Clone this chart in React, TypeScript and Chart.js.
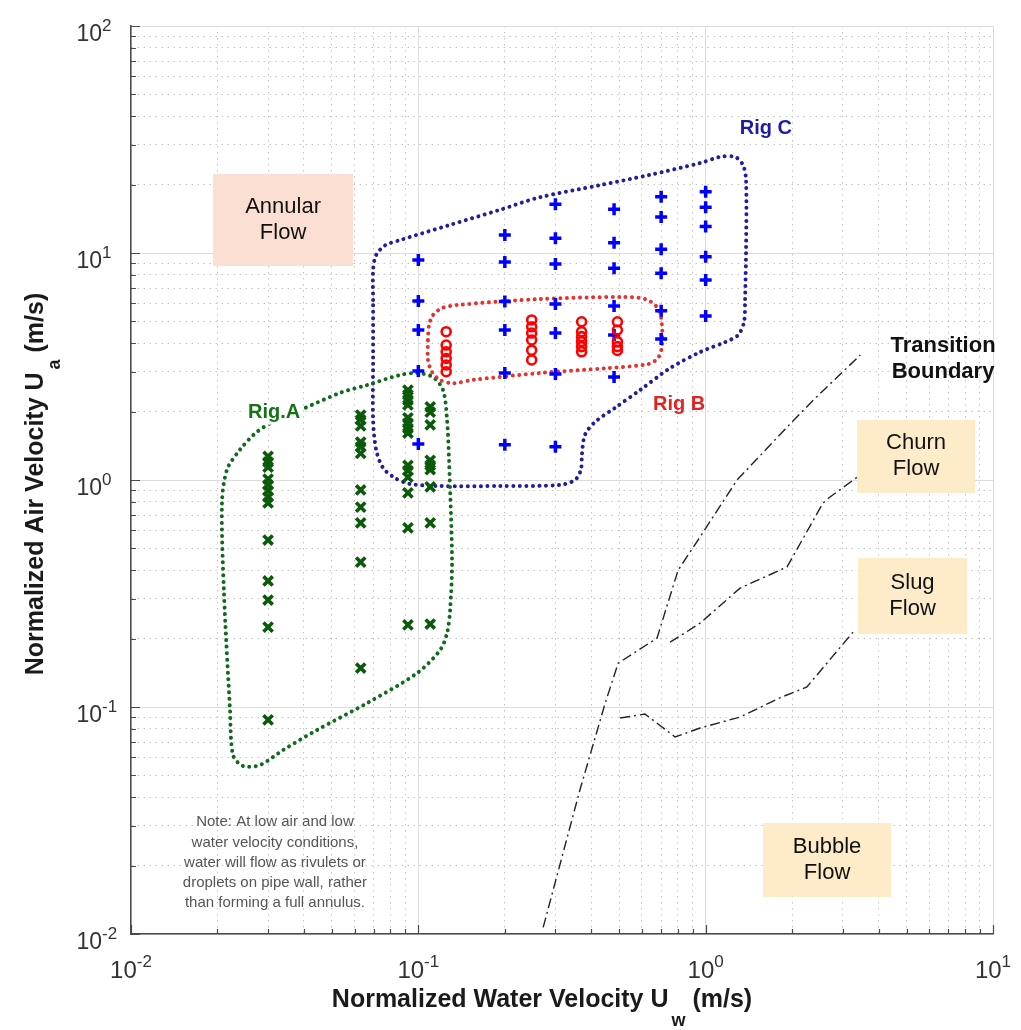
import React, { useEffect, useRef } from "react";
import { Chart, registerables } from "chart.js";

Chart.register(...registerables);

const FONT = '"Liberation Sans", Arial, Helvetica, sans-serif';

// Axis ranges (m/s) and the decade exponents labelled on each axis
const waterRange = [0.01, 10];
const airRange = [0.01, 100];
const waterDecades = [-2, -1, 0, 1];
const airDecades = [-2, -1, 0, 1, 2];

// Rig A test points: water velocity of each column and the air velocities run at it
const rigAWater = [0.03, 0.063, 0.092, 0.11];
const rigAAir = [
  [1.27, 1.2, 1.14, 1.01, 0.951, 0.895, 0.842, 0.792, 0.544, 0.359, 0.296, 0.225, 0.0877],
  [1.93, 1.84, 1.73, 1.47, 1.4, 1.31, 0.904, 0.76, 0.647, 0.435, 0.1485],
  [2.49, 2.37, 2.25, 2.14, 1.88, 1.78, 1.69, 1.61, 1.16, 1.1, 1.03, 0.877, 0.615, 0.23],
  [2.1, 1.99, 1.75, 1.22, 1.16, 1.11, 0.932, 0.647, 0.232],
];

// Rig B test points
const rigBWater = [0.125, 0.248, 0.37, 0.493];
const rigBAir = [
  [4.5, 3.93, 3.67, 3.43, 3.21, 3.0],
  [5.07, 4.73, 4.44, 4.14, 3.73, 3.38],
  [4.98, 4.5, 4.28, 4.07, 3.87, 3.67],
  [4.98, 4.58, 4.07, 3.87, 3.72],
];

// Rig C test points
const rigCWater = [0.1, 0.2, 0.3, 0.48, 0.7, 1.0];
const rigCAir = [
  [9.31, 6.15, 4.58, 3.02, 1.44],
  [12.0, 9.12, 6.11, 4.58, 2.96, 1.43],
  [16.4, 11.6, 8.95, 5.96, 4.44, 2.93, 1.4],
  [15.6, 11.1, 8.57, 5.84, 4.35, 2.84],
  [17.7, 14.4, 10.4, 8.15, 5.57, 4.18],
  [18.6, 15.9, 13.1, 9.63, 7.6, 5.28],
];

// Operating envelope of each rig, [water, air]
const rigAEnvelope = [
  [0.03875, 2.03], [0.0534, 2.42], [0.0663, 2.62], [0.0864, 2.9], [0.099, 2.96], [0.1125, 2.84],
  [0.1219, 2.49], [0.1259, 1.84], [0.1279, 1.22], [0.131, 0.444], [0.129, 0.268], [0.1259, 0.212],
  [0.119, 0.178], [0.099, 0.141], [0.0663, 0.104], [0.0444, 0.0792], [0.0338, 0.0646], [0.0281, 0.0555],
  [0.0245, 0.055], [0.02265, 0.0614], [0.02211, 0.097], [0.02107, 0.318], [0.02073, 0.792], [0.02158, 1.11],
  [0.02395, 1.36], [0.02745, 1.63], [0.03222, 1.84], [0.03875, 2.03],
];
const rigBEnvelope = [
  [0.108, 4.14], [0.109, 4.82], [0.1125, 5.33], [0.121, 5.72], [0.1364, 5.9], [0.265, 6.27], [0.516, 6.4],
  [0.615, 6.27], [0.672, 5.84], [0.7, 5.17], [0.705, 3.93], [0.683, 3.45], [0.63, 3.24], [0.4536, 3.11],
  [0.265, 2.96], [0.155, 2.76], [0.132, 2.67], [0.119, 2.76], [0.1116, 2.99], [0.108, 3.38], [0.108, 4.14],
];
const rigCEnvelope = [
  [0.0696, 6.21], [0.0696, 8.42], [0.0713, 9.8], [0.0766, 10.8], [0.0864, 11.4], [0.129, 13.3], [0.1925, 15.5],
  [0.265, 17.6], [0.429, 19.9], [0.64, 22.1], [0.956, 24.9], [1.122, 26.5], [1.266, 26.5], [1.349, 24.4],
  [1.382, 21.0], [1.382, 10.3], [1.371, 6.21], [1.36, 4.97], [1.297, 4.35], [1.168, 4.05], [0.956, 3.66],
  [0.752, 3.11], [0.591, 2.49], [0.484, 2.08], [0.412, 1.8], [0.38, 1.58], [0.371, 1.29], [0.368, 1.11],
  [0.351, 1.0], [0.311, 0.951], [0.1925, 0.941], [0.119, 0.941], [0.0936, 0.96], [0.083, 1.02], [0.0754, 1.13],
  [0.0713, 1.36], [0.0696, 1.84], [0.0696, 3.38], [0.0696, 6.21],
];

// Flow-regime transition boundaries, [water, air]
const annularBoundary = [
  [0.272, 0.0107], [0.365, 0.0431], [0.447, 0.104], [0.496, 0.156], [0.677, 0.201], [0.802, 0.401],
  [0.956, 0.561], [1.286, 1.0], [1.92, 1.71], [2.37, 2.25], [3.45, 3.55],
];
const churnSlugBoundary = [
  [0.752, 0.193], [0.956, 0.234], [1.317, 0.334], [1.92, 0.414], [2.56, 0.792], [2.71, 0.842], [3.37, 1.03],
];
const slugBubbleBoundary = [
  [0.504, 0.0894], [0.615, 0.0931], [0.783, 0.0738], [0.956, 0.0808], [1.317, 0.0903], [1.82, 0.11],
  [2.25, 0.1225], [3.26, 0.214],
];

// Regime label boxes, placed in axis units: [water from, water to], [air from, air to]
const regimeBoxes = [
  { lines: ["Annular", "Flow"], water: [0.0193, 0.0593], air: [8.76, 22.3], fill: "#fbdfd3" },
  { lines: ["Churn", "Flow"], water: [3.365, 8.66], air: [0.877, 1.84], fill: "#fdebc9" },
  { lines: ["Slug", "Flow"], water: [3.39, 8.13], air: [0.2096, 0.453], fill: "#fdebc9" },
  { lines: ["Bubble", "Flow"], water: [1.584, 4.42], air: [0.01455, 0.0308], fill: "#fdebc9" },
];

// Free text annotations, centred on [water, air]
const textNotes = [
  { lines: ["Rig C"], at: [1.62, 35.4], font: `bold 20px ${FONT}`, color: "#1c1ca6", gap: 0, clear: false },
  { lines: ["Rig B"], at: [0.808, 2.15], font: `bold 20px ${FONT}`, color: "#e32222", gap: 0, clear: false },
  { lines: ["Rig.A"], at: [0.0315, 1.98], font: `bold 20px ${FONT}`, color: "#137313", gap: 0, clear: true },
  { lines: ["Transition", "Boundary"], at: [6.7, 3.41], font: `bold 22px ${FONT}`, color: "#111111", gap: 26, clear: false },
  {
    lines: [
      "Note: At low air and low",
      "water velocity conditions,",
      "water will flow as rivulets or",
      "droplets on pipe wall, rather",
      "than forming a full annulus.",
    ],
    at: [0.0317, 0.0206], font: `15px ${FONT}`, color: "#555555", gap: 20.3, clear: false,
  },
];

const toPoints = (pairs: number[][]) => pairs.map(([x, y]) => ({ x, y }));
const columnsToPoints = (water: number[], air: number[][]) =>
  water.flatMap((w, i) => air[i].map((a) => ({ x: w, y: a })));

const isDecade = (v: number) => {
  const l = Math.log10(v);
  return Math.abs(l - Math.round(l)) < 1e-6;
};

const logTickValues = (min: number, max: number) => {
  const out: number[] = [];
  const e0 = Math.round(Math.log10(min));
  const e1 = Math.round(Math.log10(max));
  for (let e = e0; e < e1; e++) {
    for (let m = 1; m < 10; m++) out.push(parseFloat((m * Math.pow(10, e)).toPrecision(6)));
  }
  out.push(max);
  return out;
};

// "10" with a raised exponent; anchor: 'center' centres the whole label, 'base-right' puts the right edge of "10" at x
function drawPower(ctx: CanvasRenderingContext2D, exp: number, x: number, baseline: number, size: number, supSize: number, rise: number, anchor: string) {
  const base = "10";
  const sup = exp < 0 ? "-" + Math.abs(exp) : String(exp);
  ctx.font = `${size}px ${FONT}`;
  const bw = ctx.measureText(base).width;
  ctx.font = `${supSize}px ${FONT}`;
  const sw = ctx.measureText(sup).width;
  const left = anchor === "center" ? x - (bw + sw) / 2 : x - bw;
  ctx.textAlign = "left";
  ctx.textBaseline = "alphabetic";
  ctx.font = `${size}px ${FONT}`;
  ctx.fillText(base, left, baseline);
  ctx.font = `${supSize}px ${FONT}`;
  ctx.fillText(sup, left + bw, baseline - rise);
}

// Axis title with a subscript, drawn centred on (0, 0) of the current transform
function drawSubTitle(ctx: CanvasRenderingContext2D, head: string, sub: string, tail: string, size: number, subSize: number, drop: number) {
  const main = `bold ${size}px ${FONT}`;
  const small = `bold ${subSize}px ${FONT}`;
  ctx.font = main;
  const hw = ctx.measureText(head).width;
  const tw = ctx.measureText(tail).width;
  ctx.font = small;
  const sw = ctx.measureText(sub).width;
  const gap = 3;
  const total = hw + gap + sw + tw;
  let x = -total / 2;
  ctx.textAlign = "left";
  ctx.textBaseline = "alphabetic";
  ctx.font = main;
  ctx.fillText(head, x, 0);
  x += hw + gap;
  ctx.font = small;
  ctx.fillText(sub, x, drop);
  x += sw;
  ctx.font = main;
  ctx.fillText(tail, x, 0);
}

const decorations = {
  id: "decorations",
  beforeDatasetsDraw(chart: any) {
    const { ctx, scales } = chart;
    const xs = scales.x;
    const ys = scales.y;
    ctx.save();
    regimeBoxes.forEach((b) => {
      const x0 = xs.getPixelForValue(b.water[0]);
      const x1 = xs.getPixelForValue(b.water[1]);
      const y0 = ys.getPixelForValue(b.air[1]);
      const y1 = ys.getPixelForValue(b.air[0]);
      ctx.fillStyle = b.fill;
      ctx.fillRect(x0, y0, x1 - x0, y1 - y0);
      ctx.fillStyle = "#111111";
      ctx.font = `22px ${FONT}`;
      ctx.textAlign = "center";
      ctx.textBaseline = "middle";
      const cx = (x0 + x1) / 2;
      const cy = (y0 + y1) / 2;
      b.lines.forEach((t, i) => ctx.fillText(t, cx, cy + (i - (b.lines.length - 1) / 2) * 26));
    });
    ctx.restore();
  },
  afterDatasetsDraw(chart: any) {
    const { ctx, scales, chartArea } = chart;
    const xs = scales.x;
    const ys = scales.y;
    ctx.save();

    // inward tick marks on the bottom and left axes
    ctx.strokeStyle = "#4a4a4a";
    ctx.lineWidth = 1.2;
    ctx.beginPath();
    xs.ticks.forEach((t: any) => {
      const px = Math.round(xs.getPixelForValue(t.value)) + 0.5;
      const len = isDecade(t.value) ? 9 : 5;
      ctx.moveTo(px, chartArea.bottom);
      ctx.lineTo(px, chartArea.bottom - len);
    });
    ys.ticks.forEach((t: any) => {
      const py = Math.round(ys.getPixelForValue(t.value)) + 0.5;
      const len = isDecade(t.value) ? 9 : 5;
      ctx.moveTo(chartArea.left, py);
      ctx.lineTo(chartArea.left + len, py);
    });
    ctx.stroke();

    // free text annotations
    textNotes.forEach((n) => {
      const cx = xs.getPixelForValue(n.at[0]);
      const cy = ys.getPixelForValue(n.at[1]);
      ctx.font = n.font;
      ctx.textAlign = "center";
      ctx.textBaseline = "middle";
      if (n.clear) {
        const w = Math.max(...n.lines.map((l) => ctx.measureText(l).width));
        ctx.fillStyle = "#ffffff";
        ctx.fillRect(cx - w / 2 - 2, cy - 12, w + 4, 24);
      }
      ctx.fillStyle = n.color;
      n.lines.forEach((l, i) => ctx.fillText(l, cx, cy + (i - (n.lines.length - 1) / 2) * n.gap));
    });

    // decade labels
    ctx.fillStyle = "#333333";
    waterDecades.forEach((e) => {
      const px = xs.getPixelForValue(Math.pow(10, e));
      drawPower(ctx, e, px, chartArea.bottom + 44, 24, 17, 11, "center");
    });
    airDecades.forEach((e) => {
      const py = ys.getPixelForValue(Math.pow(10, e));
      drawPower(ctx, e, chartArea.left - 29, py + 15, 23, 17, 10, "base-right");
    });

    // axis titles
    ctx.fillStyle = "#1a1a1a";
    ctx.save();
    ctx.translate(542, chartArea.bottom + 73);
    drawSubTitle(ctx, "Normalized Water Velocity U", "w", " (m/s)", 25, 18, 19);
    ctx.restore();
    ctx.save();
    ctx.translate(43, 484);
    ctx.rotate(-Math.PI / 2);
    drawSubTitle(ctx, "Normalized Air Velocity U", "a", " (m/s)", 25, 18, 17);
    ctx.restore();

    ctx.restore();
  },
};

const gridFor = () => ({
  drawTicks: false,
  color: (c: any) => (c.tick && isDecade(c.tick.value) ? "#dcdcdc" : "#c4c4c4"),
  lineWidth: 1,
});
const borderFor = () => ({
  display: true,
  color: "#4a4a4a",
  width: 1.5,
  dash: (c: any) => (c.tick && !isDecade(c.tick.value) ? [1.5, 4.5] : []),
});

export default function App() {
  const ref = useRef<HTMLCanvasElement>(null);

  useEffect(() => {
    const canvas = ref.current;
    if (!canvas) return;

    const envelope = (pairs: number[][], color: string, order: number) => ({
      data: toPoints(pairs),
      showLine: true,
      borderColor: color,
      borderWidth: 4,
      borderDash: [0.01, 6.5],
      borderCapStyle: "round",
      tension: 0.3,
      pointRadius: 0,
      fill: false,
      order,
    });
    const boundary = (pairs: number[][]) => ({
      data: toPoints(pairs),
      showLine: true,
      borderColor: "#222222",
      borderWidth: 1.4,
      borderDash: [10, 4, 2, 4],
      tension: 0,
      pointRadius: 0,
      fill: false,
      order: 10,
    });

    const chart = new Chart(canvas, {
      type: "scatter",
      data: {
        datasets: [
          {
            data: columnsToPoints(rigBWater, rigBAir),
            pointStyle: "circle",
            pointRadius: 4.5,
            borderWidth: 2.6,
            borderColor: "#ff0000",
            backgroundColor: "rgba(0,0,0,0)",
            order: 0,
          },
          {
            data: columnsToPoints(rigCWater, rigCAir),
            pointStyle: "cross",
            pointRadius: 6,
            borderWidth: 3.5,
            borderColor: "#0000ff",
            backgroundColor: "#0000ff",
            order: 1,
          },
          {
            data: columnsToPoints(rigAWater, rigAAir),
            pointStyle: "crossRot",
            pointRadius: 6.5,
            borderWidth: 3.6,
            borderColor: "#0a5a0a",
            backgroundColor: "#0a5a0a",
            order: 2,
          },
          envelope(rigBEnvelope, "#e8302e", 3),
          envelope(rigAEnvelope, "#0f6b1a", 4),
          envelope(rigCEnvelope, "#1e1e9e", 5),
          boundary(annularBoundary),
          boundary(churnSlugBoundary),
          boundary(slugBubbleBoundary),
        ] as any,
      },
      options: {
        animation: false,
        responsive: false,
        maintainAspectRatio: false,
        layout: { padding: { left: 131, top: 26, right: 28, bottom: 96 } },
        plugins: { legend: { display: false }, tooltip: { enabled: false } },
        elements: { point: { hoverRadius: 0 } },
        scales: {
          x: {
            type: "logarithmic",
            min: waterRange[0],
            max: waterRange[1],
            ticks: { display: false },
            grid: gridFor(),
            border: borderFor(),
            afterBuildTicks: (axis: any) => {
              axis.ticks = logTickValues(waterRange[0], waterRange[1]).map((v) => ({ value: v, major: isDecade(v) }));
            },
          },
          y: {
            type: "logarithmic",
            min: airRange[0],
            max: airRange[1],
            ticks: { display: false },
            grid: gridFor(),
            border: borderFor(),
            afterBuildTicks: (axis: any) => {
              axis.ticks = logTickValues(airRange[0], airRange[1]).map((v) => ({ value: v, major: isDecade(v) }));
            },
          },
        } as any,
      },
      plugins: [decorations],
    });

    return () => chart.destroy();
  }, []);

  return (
    <div style={{ position: "fixed", left: 0, top: 0, width: 1021, height: 1030, background: "#ffffff" }}>
      <canvas ref={ref} width={1021} height={1030} style={{ display: "block", width: 1021, height: 1030 }} />
    </div>
  );
}
